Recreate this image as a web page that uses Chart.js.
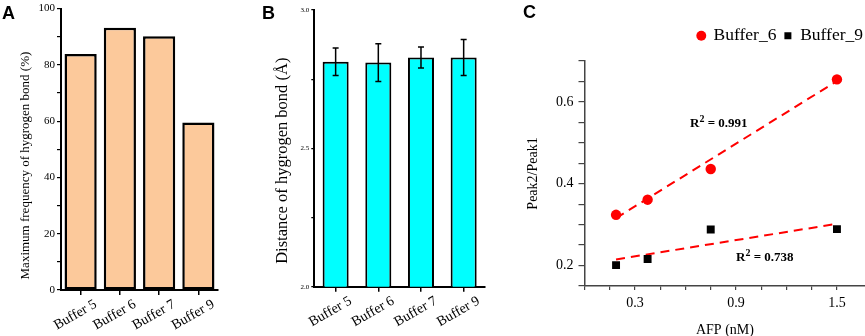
<!DOCTYPE html>
<html><head><meta charset="utf-8">
<script src="https://cdn.jsdelivr.net/npm/chart.js@4.4.0/dist/chart.umd.min.js"></script>
<style>
html,body{margin:0;padding:0;background:#fff;width:865px;height:336px;overflow:hidden;position:relative;}
.pan{position:absolute;top:0;height:336px;}
.lt{position:absolute;font-family:"Liberation Sans",Arial,sans-serif;font-weight:bold;font-size:18px;line-height:18px;color:#000;}
.ann{position:absolute;font-family:"Liberation Serif","Times New Roman",serif;font-weight:bold;font-size:13px;line-height:13px;white-space:nowrap;color:#000;}
.ann sup{font-size:10px;vertical-align:5px;line-height:0;}
</style></head><body>
<div class="pan" style="left:0;width:230px"><canvas id="cA" width="230" height="336"></canvas></div>
<div class="pan" style="left:255px;width:240px"><canvas id="cB" width="240" height="336"></canvas></div>
<div class="pan" style="left:500px;width:371px"><canvas id="cC" width="371" height="336"></canvas></div>
<div class="lt" style="left:2px;top:4px">A</div>
<div class="lt" style="left:262px;top:4px">B</div>
<div class="lt" style="left:523px;top:3px">C</div>
<div class="ann" style="left:690px;top:116px">R<sup>2</sup> = 0.991</div>
<div class="ann" style="left:736px;top:250px">R<sup>2</sup> = 0.738</div>
<script>
// ---- data ----
const categories = ['Buffer 5', 'Buffer 6', 'Buffer 7', 'Buffer 9'];
const hbondFrequency = [83.9, 93.2, 90.2, 59.5];
const hbondDistance = [2.813, 2.810, 2.828, 2.828];
const hbondDistanceErr = [0.050, 0.068, 0.038, 0.065];
const afpConc = [0.1875, 0.375, 0.75, 1.5];
const ratioBuffer6 = [0.324, 0.361, 0.436, 0.655];
const ratioBuffer9 = [0.201, 0.216, 0.288, 0.289];
const fitBuffer6 = [0.316, 0.651];
const fitBuffer9 = [0.215, 0.302];
const xTickLabels = [0.3, 0.9, 1.5];
const yTickLabelsC = [0.2, 0.4, 0.6];

const SERIF = '"Liberation Serif", "Times New Roman", serif';

const errorBarPlugin = {
  id: 'errorBars',
  afterDatasetsDraw(chart, args, opts) {
    if (!opts || !opts.errors) return;
    const ctx = chart.ctx, y = chart.scales.y;
    const meta = chart.getDatasetMeta(0);
    ctx.save();
    ctx.strokeStyle = '#000'; ctx.lineWidth = 1.5;
    opts.values.forEach((v, i) => {
      const px = meta.data[i].x;
      const yt = y.getPixelForValue(v + opts.errors[i]);
      const yb = y.getPixelForValue(v - opts.errors[i]);
      ctx.beginPath();
      ctx.moveTo(px, yt); ctx.lineTo(px, yb);
      ctx.moveTo(px - opts.cap, yt); ctx.lineTo(px + opts.cap, yt);
      ctx.moveTo(px - opts.cap, yb); ctx.lineTo(px + opts.cap, yb);
      ctx.stroke();
    });
    ctx.restore();
  }
};

// ---- Panel A ----
new Chart(document.getElementById('cA'), {
  type: 'bar',
  data: { labels: categories, datasets: [{ data: hbondFrequency, backgroundColor: '#FCC99B', borderColor: '#000', borderWidth: 2.5, borderSkipped: false, barPercentage: 0.82, categoryPercentage: 1 }] },
  options: {
    responsive: false, animation: false,
    layout: { padding: { top: 6, right: 12, left: 0, bottom: 0 } },
    plugins: { legend: { display: false }, tooltip: { enabled: false } },
    scales: {
      x: {
        grid: { display: true, offset: false, drawOnChartArea: false, drawTicks: true, tickLength: 5, color: '#000', lineWidth: 1.5 },
        border: { color: '#000', width: 2 },
        ticks: { color: '#000', font: { family: SERIF, size: 14 }, minRotation: 30, maxRotation: 30, labelOffset: 15, padding: 1, autoSkip: false },
        afterFit(s) { s.height = 46; }
      },
      y: {
        min: 0, max: 100,
        grid: { drawOnChartArea: false, tickLength: 4, color: '#000', lineWidth: 1.2 },
        border: { color: '#000', width: 2 },
        ticks: { stepSize: 10, autoSkip: false, color: '#000', padding: 2, font: { family: SERIF, size: 11 }, callback: v => (v % 20 === 0 ? v : '') },
        title: { display: true, text: 'Maximum frequency of hygrogen bond (%)          ', color: '#000', font: { family: SERIF, size: 13 }, padding: { top: 18, bottom: 0 } },
        afterFit(s) { s.width = 61; }
      }
    }
  }
});

// ---- Panel B ----
new Chart(document.getElementById('cB'), {
  type: 'bar',
  data: { labels: categories, datasets: [{ data: hbondDistance, backgroundColor: '#00FFFF', borderColor: '#000', borderWidth: 2, borderSkipped: false, barPercentage: 0.61, categoryPercentage: 1 }] },
  plugins: [errorBarPlugin],
  options: {
    responsive: false, animation: false,
    layout: { padding: { top: 10, right: 10, left: 0, bottom: 0 } },
    plugins: { legend: { display: false }, tooltip: { enabled: false }, errorBars: { values: hbondDistance, errors: hbondDistanceErr, cap: 3 } },
    scales: {
      x: {
        grid: { display: true, offset: false, drawOnChartArea: false, drawTicks: true, tickLength: 5, color: '#000', lineWidth: 1.5 },
        border: { color: '#000', width: 2 },
        ticks: { color: '#000', font: { family: SERIF, size: 14 }, minRotation: 30, maxRotation: 30, labelOffset: 15, padding: 1, autoSkip: false },
        afterFit(s) { s.height = 49.3; }
      },
      y: {
        min: 2, max: 3,
        grid: { drawOnChartArea: false, tickLength: 3, color: '#000', lineWidth: 1.2 },
        border: { color: '#000', width: 2 },
        ticks: { stepSize: 0.25, autoSkip: false, color: '#000', padding: 2, font: { family: SERIF, size: 7 }, callback: v => (Math.abs(v * 2 - Math.round(v * 2)) < 1e-6 ? v.toFixed(1) : '') },
        title: { display: true, text: 'Distance of hygrogen bond (Å)      ', color: '#000', font: { family: SERIF, size: 16.5 }, padding: { top: 18, bottom: 0 } },
        afterFit(s) { s.width = 59.3; }
      }
    }
  }
});

// ---- Panel C ----
const pts = (xs, ys) => xs.map((x, i) => ({ x, y: ys[i] }));
const ends = (fit) => [{ x: afpConc[0], y: fit[0] }, { x: afpConc[afpConc.length - 1], y: fit[1] }];
new Chart(document.getElementById('cC'), {
  type: 'scatter',
  data: {
    datasets: [
      { label: 'Buffer_6', xAxisID: 'x', yAxisID: 'y', data: pts(afpConc, ratioBuffer6), pointStyle: 'circle', pointRadius: 5.2, backgroundColor: '#FF0000', borderColor: '#FF0000', borderWidth: 0, order: 1 },
      { label: 'Buffer_9', xAxisID: 'x', yAxisID: 'y', data: pts(afpConc, ratioBuffer9), pointStyle: 'rect', pointRadius: 5.6, backgroundColor: '#000', borderColor: '#000', borderWidth: 0, order: 1 },
      { label: 'fit6', type: 'line', xAxisID: 'x', yAxisID: 'y', data: ends(fitBuffer6), borderColor: '#FF0000', borderWidth: 2, borderDash: [9, 6], pointRadius: 0, fill: false, order: 2 },
      { label: 'fit9', type: 'line', xAxisID: 'x', yAxisID: 'y', data: ends(fitBuffer9), borderColor: '#FF0000', borderWidth: 2, borderDash: [9, 6], pointRadius: 0, fill: false, order: 2 }
    ]
  },
  options: {
    responsive: false, animation: false,
    layout: { padding: { top: 19, right: 0, left: 0, bottom: 0 } },
    plugins: {
      tooltip: { enabled: false },
      legend: {
        display: true, position: 'top', align: 'end',
        labels: { usePointStyle: true, boxWidth: 7, boxHeight: 7, padding: 8, color: '#000', font: { family: SERIF, size: 17.5 },
          filter: (item) => item.text.startsWith('Buffer') }
      }
    },
    scales: {
      x: {
        type: 'linear', position: 'bottom', min: 0, max: 1.669,
        grid: { drawOnChartArea: false, tickLength: 4, color: '#444', lineWidth: 1.2 },
        border: { color: '#444', width: 1.5 },
        ticks: { stepSize: 0.15, autoSkip: false, color: '#000', padding: 5, font: { family: SERIF, size: 14 },
          callback: v => (xTickLabels.some(t => Math.abs(t - v) < 1e-6) ? v.toFixed(1) : '') },
        title: { display: true, text: 'AFP (nM)', color: '#000', font: { family: SERIF, size: 14 }, padding: { top: 0, bottom: -3 } },
        afterFit(s) { s.height = 50; }
      },
      xTop: {
        type: 'linear', position: 'top', display: true, min: 0, max: 1,
        grid: { display: false }, border: { display: false }, ticks: { display: false },
        afterFit(s) { s.height = 6.5; }
      },
      y: {
        min: 0.15, max: 0.70,
        grid: { drawOnChartArea: false, tickLength: 6, color: '#444', lineWidth: 1.2 },
        border: { color: '#444', width: 1.5 },
        ticks: { stepSize: 0.05, autoSkip: false, color: '#000', padding: 5, font: { family: SERIF, size: 14 },
          callback: v => (yTickLabelsC.some(t => Math.abs(t - v) < 1e-6) ? v.toFixed(1) : '') },
        title: { display: true, text: 'Peak2/Peak1', color: '#000', font: { family: SERIF, size: 14 }, padding: { top: 25, bottom: 0 } },
        afterFit(s) { s.width = 84.5; }
      }
    }
  }
});
</script>
</body></html>
